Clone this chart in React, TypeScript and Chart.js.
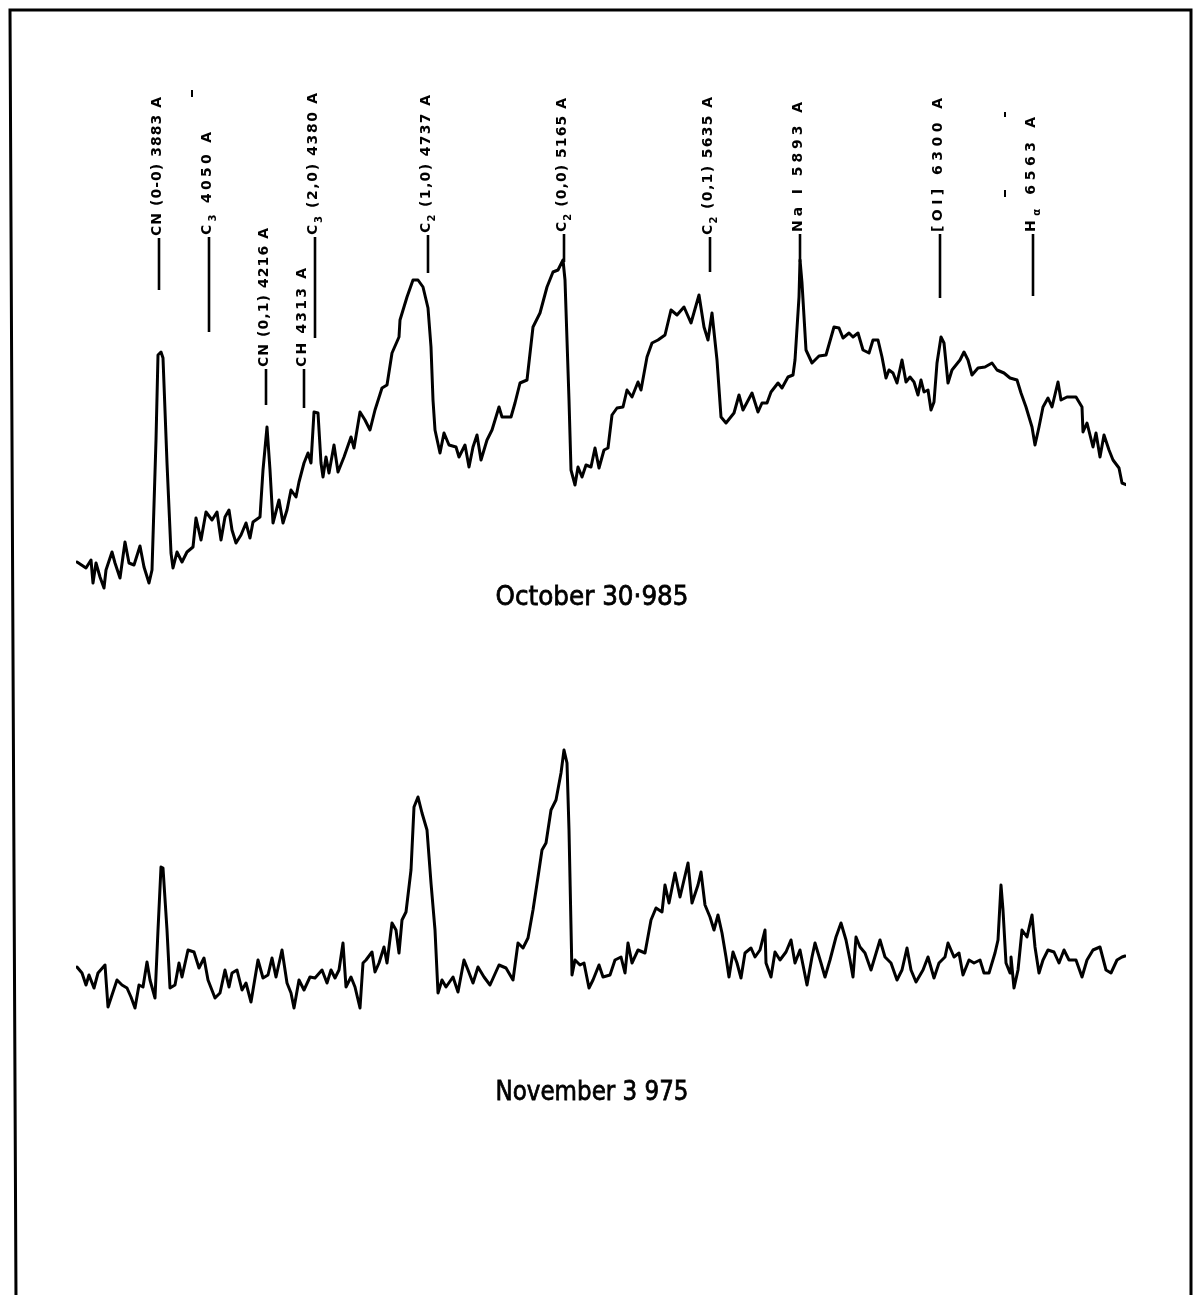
import { useEffect, useRef } from "react";
import { Chart, registerables } from "chart.js";

Chart.register(...registerables);

// Tracing position (arbitrary units along the record) and relative intensity
const octoberTrace: [number, number][] = [
  [1, 538], [10, 532], [15, 540], [17, 517], [20, 537], [24, 523], [28, 512], [30, 530], [36, 548], [39, 537],
  [44, 522], [49, 558], [53, 537], [58, 535], [64, 554], [68, 533], [73, 517], [76, 530], [80, 660], [82, 745],
  [85, 748], [87, 742], [91, 637], [95, 547], [97, 532], [101, 548], [106, 538], [111, 548], [117, 553], [120, 582],
  [125, 560], [130, 588], [136, 580], [141, 588], [145, 560], [149, 583], [153, 590], [156, 570], [160, 557], [165, 565],
  [170, 577], [174, 562], [177, 578], [184, 583], [187, 630], [191, 673], [194, 630], [197, 577], [203, 600], [207, 577],
  [211, 590], [215, 610], [220, 603], [223, 618], [228, 637], [232, 647], [235, 637], [238, 688], [242, 687], [245, 637],
  [247, 623], [250, 643], [253, 627], [258, 655], [262, 628], [268, 643], [275, 663], [278, 652], [284, 688], [289, 680],
  [294, 670], [299, 690], [306, 712], [311, 715], [316, 747], [323, 763], [324, 780], [331, 803], [337, 820], [342, 820],
  [347, 813], [352, 792], [355, 753], [357, 700], [359, 670], [364, 647], [368, 667], [373, 655], [380, 653], [383, 643],
  [389, 655], [393, 633], [397, 653], [401, 665], [405, 640], [411, 660], [416, 670], [423, 693], [426, 683], [435, 683],
  [439, 697], [444, 717], [451, 720], [457, 773], [464, 787], [471, 813], [477, 828], [482, 830], [487, 840], [489, 820],
  [493, 700], [495, 630], [499, 615], [502, 633], [506, 623], [510, 635], [515, 633], [519, 652], [523, 632], [528, 650],
  [532, 652], [536, 685], [541, 692], [547, 693], [551, 710], [556, 703], [562, 718], [565, 710], [571, 743], [576, 757],
  [582, 760], [589, 765], [595, 790], [601, 785], [608, 793], [615, 777], [623, 805], [628, 773], [632, 760], [636, 787],
  [641, 740], [645, 683], [650, 677], [658, 687], [663, 705], [667, 690], [676, 707], [682, 688], [686, 697], [691, 697],
  [695, 708], [702, 717], [706, 712], [712, 723], [717, 725], [719, 740], [723, 803], [724, 840], [726, 817], [730, 750],
  [736, 737], [743, 744], [750, 745], [758, 773], [763, 772], [767, 762], [773, 767], [777, 763], [782, 767], [787, 750],
  [793, 747], [797, 760], [802, 760], [806, 743], [810, 722], [813, 730], [817, 727], [821, 717], [826, 740], [830, 718],
  [834, 723], [838, 718], [842, 705], [845, 720], [848, 708], [852, 710], [855, 690], [858, 698], [861, 737], [865, 763],
  [868, 757], [872, 717], [876, 730], [884, 740], [888, 748], [892, 740], [896, 725], [902, 732], [909, 733], [916, 737],
  [921, 730], [928, 727], [934, 722], [941, 720], [945, 707], [950, 693], [956, 673], [959, 655], [963, 673], [967, 693],
  [972, 702], [976, 693], [982, 718], [985, 700], [991, 703], [1000, 703], [1006, 693], [1007, 668], [1011, 677], [1017, 653],
  [1020, 667], [1024, 643], [1028, 665], [1033, 650], [1037, 640], [1043, 632], [1046, 617], [1051, 615],
];

const novemberTrace: [number, number][] = [
  [1, 133], [6, 127], [10, 115], [13, 125], [18, 112], [22, 127], [29, 135], [32, 93], [36, 105], [41, 120],
  [46, 115], [51, 112], [55, 103], [59, 92], [63, 115], [67, 113], [71, 138], [74, 120], [79, 102], [82, 170],
  [85, 233], [87, 232], [91, 170], [94, 112], [99, 115], [103, 137], [106, 123], [112, 150], [118, 148], [123, 132],
  [128, 142], [132, 120], [139, 102], [144, 107], [149, 130], [153, 113], [156, 127], [161, 130], [166, 110], [170, 117],
  [175, 98], [182, 140], [187, 122], [192, 125], [196, 142], [200, 123], [206, 150], [211, 117], [215, 107], [218, 92],
  [223, 120], [228, 110], [234, 123], [239, 122], [246, 130], [251, 117], [255, 130], [259, 122], [263, 130], [267, 157],
  [270, 113], [275, 123], [279, 113], [284, 92], [287, 137], [290, 140], [296, 148], [299, 128], [303, 137], [308, 153],
  [311, 137], [316, 177], [320, 170], [323, 147], [326, 180], [330, 188], [335, 230], [338, 293], [342, 303], [346, 287],
  [351, 270], [355, 217], [359, 170], [362, 107], [366, 120], [370, 113], [377, 123], [382, 108], [388, 140], [392, 130],
  [397, 117], [402, 133], [408, 123], [414, 115], [423, 135], [430, 132], [437, 120], [442, 157], [447, 152], [452, 162],
  [457, 190], [462, 223], [466, 250], [470, 257], [475, 290], [480, 300], [485, 327], [488, 350], [491, 337], [493, 270],
  [496, 125], [499, 140], [504, 135], [508, 137], [513, 112], [517, 120], [523, 135], [527, 123], [534, 125], [539, 140],
  [545, 143], [549, 127], [552, 157], [556, 137], [562, 150], [569, 147], [575, 180], [580, 192], [586, 188], [589, 215],
  [593, 197], [599, 227], [604, 203], [612, 237], [616, 197], [622, 215], [625, 228], [629, 195], [634, 183], [638, 170],
  [642, 185], [646, 167], [650, 143], [653, 123], [657, 148], [661, 137], [665, 122], [669, 147], [675, 152], [679, 143],
  [684, 150], [689, 170], [690, 137], [695, 123], [699, 148], [704, 140], [710, 148], [715, 160], [719, 137], [724, 150],
  [731, 115], [736, 143], [739, 157], [745, 137], [749, 123], [754, 140], [760, 163], [765, 177], [770, 160], [774, 140],
  [777, 123], [780, 163], [784, 153], [789, 147], [795, 130], [798, 140], [804, 160], [809, 143], [815, 137], [821, 120],
  [826, 130], [831, 152], [835, 130], [840, 118], [847, 130], [852, 143], [858, 122], [863, 137], [869, 143], [872, 157],
  [878, 143], [883, 147], [887, 125], [893, 140], [898, 137], [904, 140], [908, 127], [913, 127], [919, 147], [922, 160],
  [925, 215], [927, 190], [930, 137], [934, 127], [935, 143], [938, 112], [942, 130], [946, 170], [951, 163], [956, 185],
  [959, 153], [963, 127], [967, 140], [972, 150], [978, 148], [983, 137], [988, 150], [993, 140], [1000, 140], [1006, 123],
  [1011, 140], [1017, 150], [1024, 153], [1030, 130], [1035, 127], [1041, 140], [1046, 143], [1049, 144],
];

// Emission-line identifications ("_x" marks a subscript character)
const lineLabels = [
  "CN (0-0) 3883 A",
  "C_3 4050 A",
  "CN (0,1) 4216 A",
  "CH 4313 A",
  "C_3 (2,0) 4380 A",
  "C_2 (1,0) 4737 A",
  "C_2 (0,0) 5165 A",
  "C_2 (0,1) 5635 A",
  "Na I 5893 A",
  "[OI] 6300 A",
  "H_α 6563 A",
];
const lineLabelPos = [83, 133, 190, 228, 239, 352, 488, 634, 724, 864, 957];
const labelTextTop = [1003, 968, 872, 832, 1007, 1005, 1002, 1003, 998, 1002, 983];
const labelTextBottom = [864, 865, 733, 733, 865, 867, 868, 865, 868, 868, 868];
const labelLineEnd = [810, 768, 695, 692, 762, 827, 838, 828, 838, 802, 804];

// small stray marks on the original record: [position, top, bottom]
const strayMarks: [number, number, number][] = [
  [116, 1010, 1003],
  [929, 988, 983],
  [929, 910, 903],
];

const captionText = ["October 30·985", "November 3 975"];
const captionPos = [516, 516];
const captionLevel = [502, 7];

function parseLabel(s: string) {
  const out: { ch: string; sub: boolean }[] = [];
  for (let i = 0; i < s.length; i++) {
    if (s[i] === "_" && i + 1 < s.length) {
      out.push({ ch: s[i + 1], sub: true });
      i++;
    } else out.push({ ch: s[i], sub: false });
  }
  return out;
}

const overlayPlugin = {
  id: "overlay",
  afterDraw(chart: any) {
    const ctx: CanvasRenderingContext2D = chart.ctx;
    const xs = chart.scales.x;
    const ys = chart.scales.y;
    ctx.save();
    ctx.strokeStyle = "#000";
    ctx.fillStyle = "#000";
    // frame
    ctx.lineWidth = 3;
    ctx.beginPath();
    ctx.moveTo(16, chart.height + 2);
    ctx.lineTo(10, 10);
    ctx.lineTo(1191, 10);
    ctx.lineTo(1191, chart.height + 2);
    ctx.stroke();

    // stray marks
    ctx.lineWidth = 2;
    strayMarks.forEach(([p, a, b]) => {
      const x = xs.getPixelForValue(p);
      ctx.beginPath();
      ctx.moveTo(x, ys.getPixelForValue(a));
      ctx.lineTo(x, ys.getPixelForValue(b));
      ctx.stroke();
    });

    // line identifications
    const mainFont = 'bold 14px "DejaVu Sans"';
    const subFont = 'bold 10px "DejaVu Sans"';
    for (let i = 0; i < lineLabels.length; i++) {
      const x = xs.getPixelForValue(lineLabelPos[i]);
      const yTop = ys.getPixelForValue(labelTextTop[i]);
      const yBot = ys.getPixelForValue(labelTextBottom[i]);
      const yEnd = ys.getPixelForValue(labelLineEnd[i]);
      ctx.lineWidth = 2.6;
      ctx.beginPath();
      ctx.moveTo(x, yBot + 2);
      ctx.lineTo(x, yEnd);
      ctx.stroke();

      const segs = parseLabel(lineLabels[i]);
      const widths = segs.map((s) => {
        ctx.font = s.sub ? subFont : mainFont;
        return ctx.measureText(s.ch).width;
      });
      const W = widths.reduce((a, b) => a + b, 0);
      const L = yBot - yTop;
      const sp = segs.length > 1 ? (L - W) / (segs.length - 1) : 0;
      ctx.save();
      ctx.translate(x - 3, yBot);
      ctx.rotate(-Math.PI / 2);
      ctx.textBaseline = "alphabetic";
      ctx.textAlign = "left";
      let pos = 0;
      segs.forEach((s, k) => {
        ctx.font = s.sub ? subFont : mainFont;
        ctx.fillText(s.ch, pos, s.sub ? 10 : 5);
        pos += widths[k] + sp;
      });
      ctx.restore();
    }

    // captions
    for (let i = 0; i < captionText.length; i++) {
      const cx = xs.getPixelForValue(captionPos[i]);
      const cy = ys.getPixelForValue(captionLevel[i]);
      ctx.font = '27px "DejaVu Sans"';
      const w = ctx.measureText(captionText[i]).width;
      ctx.save();
      ctx.translate(cx, cy);
      ctx.scale(193 / w, 1);
      ctx.textAlign = "center";
      ctx.textBaseline = "middle";
      ctx.lineWidth = 0.8;
      ctx.fillText(captionText[i], 0, 0);
      ctx.strokeText(captionText[i], 0, 0);
      ctx.restore();
    }
    ctx.restore();
  },
};

export default function App() {
  const ref = useRef<HTMLCanvasElement | null>(null);
  useEffect(() => {
    document.body.style.margin = "0";
    document.body.style.background = "#fff";
    if (!ref.current) return;
    const chart = new Chart(ref.current, {
      type: "line",
      data: {
        datasets: [
          {
            label: "October 30.985",
            data: octoberTrace.map(([x, y]) => ({ x, y })),
            borderColor: "#000",
            borderWidth: 3,
            pointRadius: 0,
            tension: 0,
            borderJoinStyle: "round",
            borderCapStyle: "round",
            fill: false,
          },
          {
            label: "November 3.975",
            data: novemberTrace.map(([x, y]) => ({ x, y })),
            borderColor: "#000",
            borderWidth: 3,
            pointRadius: 0,
            tension: 0,
            borderJoinStyle: "round",
            borderCapStyle: "round",
            fill: false,
          },
        ],
      },
      options: {
        responsive: false,
        animation: false,
        devicePixelRatio: 1,
        layout: { padding: { left: 76, right: 70, top: 100, bottom: 195 } },
        scales: {
          x: { type: "linear", min: 0, max: 1050, display: false },
          y: { type: "linear", min: 0, max: 1000, display: false },
        },
        plugins: { legend: { display: false }, tooltip: { enabled: false } },
      },
      plugins: [overlayPlugin],
    } as any);
    return () => chart.destroy();
  }, []);
  return (
    <div style={{ width: 1196, height: 1295, background: "#fff" }}>
      <canvas ref={ref} width={1196} height={1295} style={{ display: "block" }} />
    </div>
  );
}
